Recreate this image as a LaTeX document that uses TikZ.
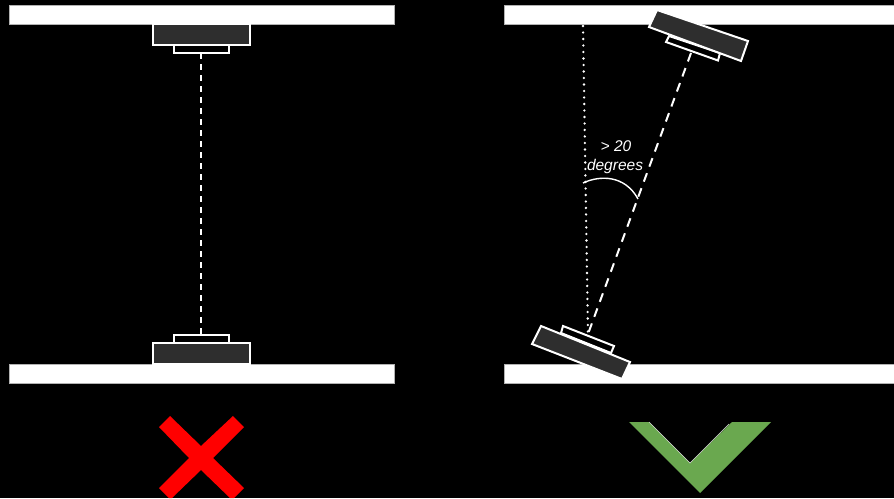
\documentclass[tikz,border=0pt]{standalone}
\usepackage{fontspec}
\setmainfont{Liberation Sans}
\definecolor{sensordark}{HTML}{2E2E2E}
\definecolor{okgreen}{HTML}{6AA84F}
\tikzset{
  x=1pt,y=-1pt,
  bar/.style={fill=white,draw=white!70!black,line width=0.6pt},
  sensorbody/.style={fill=sensordark,draw=white,line width=2pt,line join=miter},
  sensorlens/.style={fill=black,draw=white,line width=2pt,line join=miter},
  beamdash/.style={draw=white,line width=2pt,dash pattern=on 6pt off 5pt},
  beamlong/.style={draw=white,line width=2pt,dash pattern=on 9pt off 7pt},
  beamdot/.style={draw=white,line width=2.6pt,line cap=round,dash pattern=on 0pt off 6.5pt},
  anglearc/.style={draw=white,line width=1.4pt},
  anglelabel/.style={text=white,font=\fontsize{15.5}{17}\selectfont\itshape,inner sep=0pt,align=center}
}
\begin{document}
\begin{tikzpicture}
\useasboundingbox[fill=black] (0,0) rectangle (894,498);
% mounting bars
\path[bar] (9,5) rectangle (394,24);
\path[bar] (9,364) rectangle (394,383);
\path[bar] (504,5) rectangle (894,24);
\path[bar] (504,364) rectangle (894,383);
% left pair
\path[sensorlens] (174,44.5) rectangle (229,52.5);
\path[sensorbody] (153,24) rectangle (250,44.5);
\path[sensorlens] (174,335) rectangle (229,343);
\path[sensorbody] (153,343) rectangle (250,364);
\coordinate (lefttop) at (201,53);
\coordinate (leftbot) at (201,335);
\path[beamdash] (lefttop) -- (leftbot);
% right pair: beams first
\coordinate (righttop) at (691,53);
\coordinate (rightbot) at (588,334);
\coordinate (plumb) at (583,26);
\path[beamlong] (righttop) -- (rightbot);
\path[beamdot] (plumb) -- (rightbot);
% right top sensor
\path[sensorlens] (669,36) -- (720,53) -- (718,60.5) -- (666,42) -- cycle;
\path[sensorbody] (657,10) -- (748,41) -- (741,61) -- (649,27) -- cycle;
% right bottom sensor
\path[sensorlens] (563,326) -- (614,346) -- (611,353) -- (561,333) -- cycle;
\path[sensorbody] (541,326) -- (630,362) -- (622,379) -- (532,344) -- cycle;
% angle
\coordinate (arcstart) at (583,183);
\coordinate (arcend) at (638,199);
\path[anglearc] (arcstart) .. controls (600,175) and (625,175) .. (arcend);
\node[anglelabel] (anglea) at (616,146) {> 20};
\node[anglelabel] (angleb) at (615,166) {degrees};
% cross
\fill[red] (170,416) -- (201,446) -- (233,416) -- (244,427) -- (213,458) -- (244,488) -- (234,498) -- (230,498) -- (201,470) -- (172,498) -- (169,498) -- (159,488) -- (189,458) -- (159,427) -- cycle;
% check
\fill[okgreen] (629,422) -- (649,422) -- (690,463) -- (732,422) -- (771,422) -- (700,493) -- cycle;
\draw[white!85!black,line width=0.5pt] (649,422) -- (690,463) -- (729,424);
\end{tikzpicture}
\end{document}
